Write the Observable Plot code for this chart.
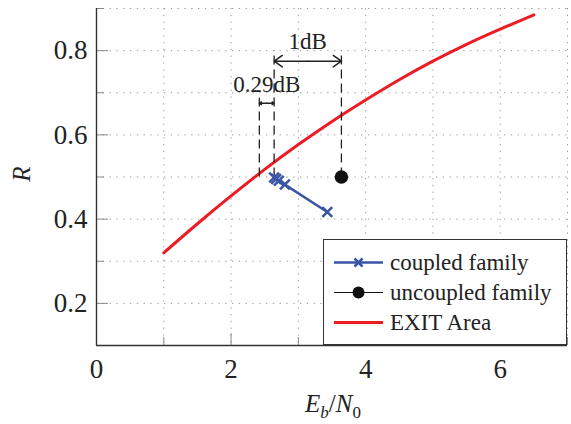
<!DOCTYPE html>
<html>
<head>
<meta charset="utf-8">
<script src="https://cdn.jsdelivr.net/npm/d3@7"></script>
<script src="https://cdn.jsdelivr.net/npm/@observablehq/plot@0.6"></script>
<style>
  html, body { margin: 0; padding: 0; background: #fff; }
  #wrap { position: relative; width: 571px; height: 424px; font-family: "Liberation Serif", serif; color: #222; }
  #legend { position: absolute; left: 323px; top: 239px; width: 244px; height: 106px; box-sizing: border-box;
            border: 1px solid #333; background: #fff; }
  .row { position: absolute; left: 0; height: 30px; display: flex; align-items: center; }
  .row svg { margin-left: 10px; }
  .row span { margin-left: 6px; font-size: 23px; white-space: nowrap; }
  .axlab { position: absolute; font-size: 25px; font-style: italic; white-space: nowrap; }
  .axlab sub { font-size: 17px; }
</style>
</head>
<body>
<div id="wrap"></div>
<script>
// ---- data ----
const exitX = [1.0, 1.5, 2.0, 2.5, 3.0, 3.5, 4.0, 4.5, 5.0, 5.5, 6.0, 6.5];
const exitR = [0.32, 0.389, 0.455, 0.518, 0.577, 0.632, 0.683, 0.731, 0.775, 0.815, 0.851, 0.885];
const coupledX = [2.64, 2.67, 2.71, 2.80, 3.43];
const coupledR = [0.499, 0.495, 0.491, 0.482, 0.417];
const uncoupledX = [3.64];
const uncoupledR = [0.5];
const xMajor = [0, 2, 4, 6];
const xMinor = [1, 3, 5, 7];
const yMajor = [0.2, 0.4, 0.6, 0.8];
const yMinor = [0.3, 0.5, 0.7, 0.9];
const dashX = [2.42, 2.64, 3.64];
const dashTop = [0.687, 0.8, 0.8];
const dashBottom = [0.5, 0.5, 0.5];
const arrows = [
  {x1: 2.64, x2: 3.64, y: 0.775, label: "1dB", ly: 0.822, head: 10},
  {x1: 2.42, x2: 2.64, y: 0.675, label: "0.29dB", ly: 0.719, head: 6}
];
const seriesNames = ["coupled family", "uncoupled family", "EXIT Area"];
const blue = "#3a55a6", red = "#ec1c24";

const exitData = exitX.map((x, i) => ({x, r: exitR[i]}));
const coupledData = coupledX.map((x, i) => ({x, r: coupledR[i]}));
const uncoupledData = uncoupledX.map((x, i) => ({x, r: uncoupledR[i]}));
const dashData = dashX.map((x, i) => ({x, y1: dashBottom[i], y2: dashTop[i]}));
// each double arrow drawn as two arrows from its middle outward
const halfArrows = arrows.flatMap(a => {
  const m = (a.x1 + a.x2) / 2;
  return [{x1: m, x2: a.x1, y: a.y, head: a.head}, {x1: m, x2: a.x2, y: a.y, head: a.head}];
});

const xUnit = 7 / (571 - 96 - 4);      // data units per px (for tick lengths)
const yUnit = 0.8 / (424 - 8 - 79);

const plot = Plot.plot({
  width: 571, height: 424,
  marginLeft: 96, marginRight: 4, marginTop: 8, marginBottom: 79,
  x: {domain: [0, 7]},
  y: {domain: [0.1, 0.9]},
  style: {fontFamily: "Liberation Serif, serif", fontSize: "27px", color: "#222", background: "white", overflow: "visible"},
  marks: [
    Plot.gridY([...yMajor, ...yMinor], {stroke: "#999", strokeOpacity: 1, strokeDasharray: "1.3,5.5"}),
    Plot.gridX([...xMajor.filter(d => d > 0), ...xMinor], {stroke: "#999", strokeOpacity: 1, strokeDasharray: "1.3,5.5"}),
    // tick marks (inward)
    Plot.ruleY(yMajor, {y: d => d, x1: 0, x2: 12 * xUnit, stroke: "#888"}),
    Plot.ruleY(yMinor, {y: d => d, x1: 0, x2: 8 * xUnit, stroke: "#888"}),
    Plot.ruleX(xMajor.filter(d => d > 0), {x: d => d, y1: 0.1, y2: 0.1 + 12 * yUnit, stroke: "#888"}),
    Plot.ruleX(xMinor, {x: d => d, y1: 0.1, y2: 0.1 + 8 * yUnit, stroke: "#888"}),
    // spines
    Plot.ruleX([0], {stroke: "#333", strokeWidth: 1.4}),
    Plot.ruleY([0.1], {stroke: "#333", strokeWidth: 1.4}),
    Plot.axisY(yMajor, {tickSize: 0, tickPadding: 9, tickFormat: d => d.toFixed(1), label: null, fontSize: 27}),
    Plot.axisX(xMajor, {tickSize: 0, tickPadding: 13, tickFormat: d => String(d), label: null, fontSize: 27}),
    // EXIT area curve
    Plot.line(exitData, {x: "x", y: "r", stroke: red, strokeWidth: 3, curve: "natural"}),
    // dashed guides
    Plot.ruleX(dashData, {x: "x", y1: "y1", y2: "y2", stroke: "#222", strokeWidth: 1.3, strokeDasharray: "9,5"}),
    // arrows
    Plot.arrow(halfArrows.filter(d => d.head === 10), {x1: "x1", x2: "x2", y1: "y", y2: "y", stroke: "#222", strokeWidth: 1.5, headLength: 10, headAngle: 70}),
    Plot.arrow(halfArrows.filter(d => d.head === 6), {x1: "x1", x2: "x2", y1: "y", y2: "y", stroke: "#222", strokeWidth: 1.4, headLength: 6, headAngle: 70}),
    Plot.text(arrows, {x: d => (d.x1 + d.x2) / 2, y: "ly", text: "label", fontSize: 23, fill: "#222"}),
    // coupled family
    Plot.line(coupledData, {x: "x", y: "r", stroke: blue, strokeWidth: 2.5}),
    Plot.dot(coupledData, {x: "x", y: "r", symbol: "times", r: 4.5, stroke: blue, strokeWidth: 2.5}),
    // uncoupled family
    Plot.dot(uncoupledData, {x: "x", y: "r", r: 6, fill: "#111", stroke: "#111"})
  ]
});

const wrap = document.getElementById("wrap");
wrap.appendChild(plot);

// axis titles
const yl = document.createElement("div");
yl.className = "axlab";
yl.innerHTML = "R";
yl.style.left = "14px"; yl.style.top = "160px";
yl.style.transform = "rotate(-90deg)";
wrap.appendChild(yl);

const xl = document.createElement("div");
xl.className = "axlab";
xl.innerHTML = "E<sub>b</sub><span style='font-style:normal'>/</span>N<sub style='font-style:normal'>0</sub>";
xl.style.left = "305px"; xl.style.top = "390px";
wrap.appendChild(xl);

// legend
const legend = document.createElement("div");
legend.id = "legend";
const styles = [
  {stroke: blue, w: 2.5, marker: "x"},
  {stroke: "#111", w: 1.2, marker: "dot"},
  {stroke: red, w: 3, marker: null}
];
seriesNames.forEach((name, i) => {
  const row = document.createElement("div");
  row.className = "row";
  row.style.top = (8 + i * 30) + "px";
  const s = styles[i];
  let m = "";
  if (s.marker === "x") m = `<path d="M20.5,10.5 L28.5,18.5 M28.5,10.5 L20.5,18.5" stroke="${s.stroke}" stroke-width="2.5"/>`;
  if (s.marker === "dot") m = `<circle cx="24.5" cy="14.5" r="6" fill="#111"/>`;
  row.innerHTML = `<svg width="50" height="30"><line x1="0" x2="49" y1="14.5" y2="14.5" stroke="${s.stroke}" stroke-width="${s.w}"/>${m}</svg><span>${name}</span>`;
  legend.appendChild(row);
});
wrap.appendChild(legend);
</script>
</body>
</html>
